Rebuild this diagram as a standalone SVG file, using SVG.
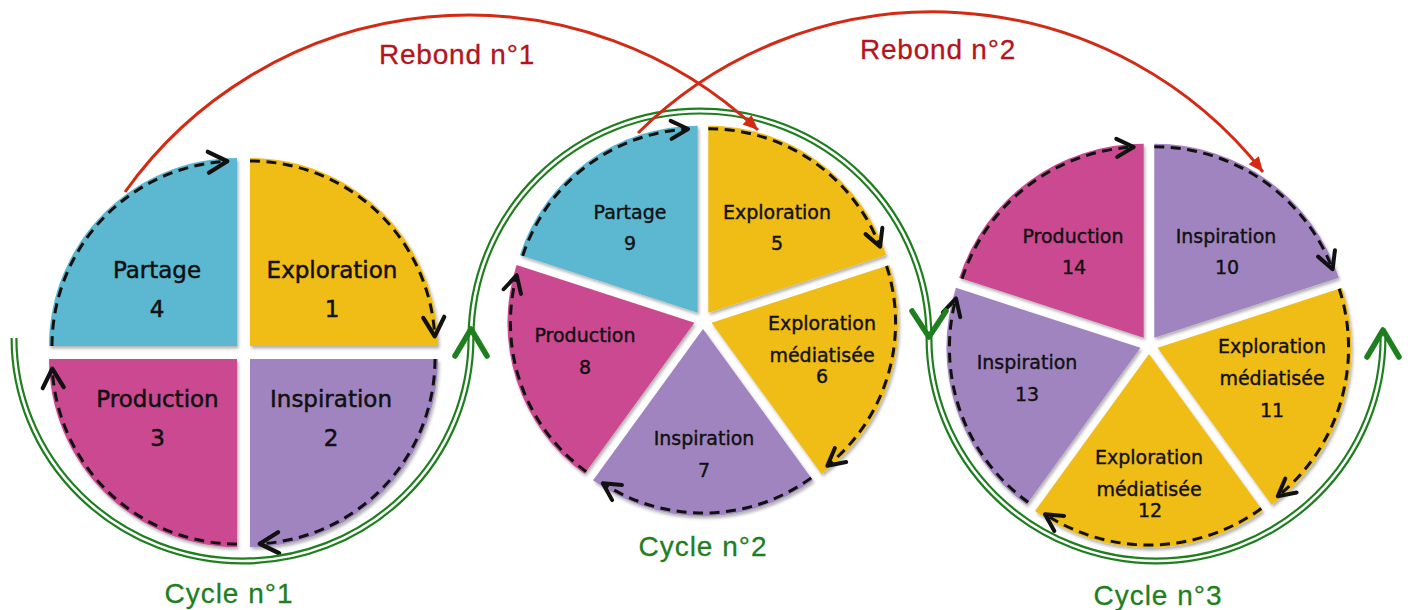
<svg xmlns="http://www.w3.org/2000/svg" width="1408" height="610" viewBox="0 0 1408 610">
<defs>
<style>
.bl{fill:#5bb8d0}.ye{fill:#f0bc15}.pu{fill:#a084bf}.pk{fill:#cb4a90}
.sec{filter:url(#sh)}
.dash{fill:none;stroke:#111;stroke-width:3;stroke-dasharray:10 6.5}
.d1{marker-end:url(#chevL)}.d2{marker-end:url(#chev)}
.t1{font-family:"DejaVu Sans",sans-serif;font-size:23px;text-anchor:middle;fill:#111;stroke:#111;stroke-width:0.5}
.t2{font-family:"DejaVu Sans",sans-serif;font-size:19px;text-anchor:middle;fill:#111;stroke:#111;stroke-width:0.4}
.red{fill:none;stroke:#d42a14;stroke-width:3;marker-end:url(#rtip)}
.go{fill:none;stroke:#1f7f1f;stroke-width:7}
.gi{fill:none;stroke:#fff;stroke-width:2.6}
.gch{fill:none;stroke:#1f7f1f;stroke-width:5.5;stroke-linecap:round;stroke-linejoin:round}
.reb{font-family:"Liberation Sans",sans-serif;font-size:28px;fill:#b4141b;stroke:#b4141b;stroke-width:0.3;letter-spacing:0.8px;text-anchor:middle}
.cyc{font-family:"Liberation Sans",sans-serif;font-size:28px;fill:#1f7f1f;stroke:#1f7f1f;stroke-width:0.3;letter-spacing:1px;text-anchor:middle}
</style>
<filter id="sh" x="-10%" y="-10%" width="120%" height="125%">
<feDropShadow dx="1.5" dy="2.5" stdDeviation="1.8" flood-color="#000" flood-opacity="0.3"/>
</filter>
<marker id="chevL" markerUnits="userSpaceOnUse" markerWidth="30" markerHeight="30" refX="22" refY="12" orient="auto" overflow="visible">
<path d="M3,1.5 L22,12 L3,22.5" fill="none" stroke="#111" stroke-width="4.2" stroke-dasharray="none" stroke-linecap="round" stroke-linejoin="round"/>
</marker>
<marker id="chev" markerUnits="userSpaceOnUse" markerWidth="26" markerHeight="26" refX="19" refY="10" orient="auto" overflow="visible">
<path d="M2,1 L19,10 L2,19" fill="none" stroke="#111" stroke-width="4" stroke-dasharray="none" stroke-linecap="round" stroke-linejoin="round"/>
</marker>
<marker id="rtip" markerUnits="userSpaceOnUse" markerWidth="18" markerHeight="14" refX="15" refY="6.5" orient="auto" overflow="visible">
<path d="M0,0 L15,6.5 L0,13 Z" fill="#d42a14"/>
</marker>
</defs>

<!-- Cycle 1 -->
<g id="c1-exploration"><path class="sec ye" d="M250,346 L250,158 A188,188 0 0,1 438,346 Z"/><text class="t1" x="332" y="278">Exploration</text><text class="t1" x="332" y="317">1</text></g>
<g id="c1-inspiration"><path class="sec pu" d="M250,359 L438,359 A188,188 0 0,1 250,547 Z"/><text class="t1" x="331" y="407">Inspiration</text><text class="t1" x="331" y="446">2</text></g>
<g id="c1-production"><path class="sec pk" d="M237,359 L237,547 A188,188 0 0,1 49,359 Z"/><text class="t1" x="157.5" y="407">Production</text><text class="t1" x="157.5" y="446">3</text></g>
<g id="c1-partage"><path class="sec bl" d="M237,346 L49,346 A188,188 0 0,1 237,158 Z"/><text class="t1" x="157" y="278">Partage</text><text class="t1" x="157" y="317">4</text></g>

<!-- Cycle 2 -->
<g id="c2-exploration"><path class="sec ye" d="M708.29,312.72 L708.29,125.72 A187,187 0 0,1 886.15,254.94 Z"/><text class="t2" x="777" y="219">Exploration</text><text class="t2" x="777" y="250">5</text></g>
<g id="c2-exploration-mediatisee"><path class="sec ye" d="M711.56,322.78 L889.42,265 A187,187 0 0,1 821.48,474.06 Z"/><text class="t2" x="822" y="330">Exploration</text><text class="t2" x="822" y="362">médiatisée</text><text class="t2" x="822" y="383">6</text></g>
<g id="c2-inspiration"><path class="sec pu" d="M703,329 L812.92,480.28 A187,187 0 0,1 593.08,480.28 Z"/><text class="t2" x="704" y="445">Inspiration</text><text class="t2" x="704" y="477">7</text></g>
<g id="c2-production"><path class="sec pk" d="M694.44,322.78 L584.52,474.06 A187,187 0 0,1 516.58,265 Z"/><text class="t2" x="585" y="342">Production</text><text class="t2" x="585" y="374">8</text></g>
<g id="c2-partage"><path class="sec bl" d="M697.71,312.72 L519.85,254.94 A187,187 0 0,1 697.71,125.72 Z"/><text class="t2" x="630" y="219">Partage</text><text class="t2" x="630" y="250">9</text></g>

<!-- Cycle 3 -->
<g id="c3-inspiration-10"><path class="sec pu" d="M1154.29,337.72 L1154.29,143.72 A194,194 0 0,1 1338.8,277.77 Z"/><text class="t2" x="1226" y="243">Inspiration</text><text class="t2" x="1227" y="274">10</text></g>
<g id="c3-exploration-mediatisee-11"><path class="sec ye" d="M1157.56,347.78 L1342.07,287.83 A194,194 0 0,1 1271.59,504.73 Z"/><text class="t2" x="1272" y="353">Exploration</text><text class="t2" x="1272" y="385">médiatisée</text><text class="t2" x="1272" y="417">11</text></g>
<g id="c3-exploration-mediatisee-12"><path class="sec ye" d="M1149,354 L1263.03,510.95 A194,194 0 0,1 1034.97,510.95 Z"/><text class="t2" x="1149" y="464">Exploration</text><text class="t2" x="1149" y="496">médiatisée</text><text class="t2" x="1150" y="517">12</text></g>
<g id="c3-inspiration-13"><path class="sec pu" d="M1140.44,347.78 L1026.41,504.73 A194,194 0 0,1 955.93,287.83 Z"/><text class="t2" x="1027" y="369">Inspiration</text><text class="t2" x="1027" y="401">13</text></g>
<g id="c3-production-14"><path class="sec pk" d="M1143.71,337.72 L959.2,277.77 A194,194 0 0,1 1143.71,143.72 Z"/><text class="t2" x="1073" y="243">Production</text><text class="t2" x="1074" y="274">14</text></g>

<g id="connectors">
<!-- dashed cycle arrows -->
<path class="dash d1" d="M52,346 A185,185 0 0,1 227.32,161.26"/>
<path class="dash d1" d="M250,161 A185,185 0 0,1 434.75,336.32"/>
<path class="dash d1" d="M435,359 A185,185 0 0,1 259.68,543.75"/>
<path class="dash d1" d="M237,544 A185,185 0 0,1 52.25,368.68"/>

<path class="dash d2" d="M708.29,128.72 A184,184 0 0,1 880.07,246.77"/>
<path class="dash d2" d="M886.56,265.92 A184,184 0 0,1 827.35,465.77"/>
<path class="dash d2" d="M811.16,477.86 A184,184 0 0,1 602.79,483.32"/>
<path class="dash d2" d="M586.28,471.64 A184,184 0 0,1 516.71,275.16"/>
<path class="dash d2" d="M522.71,255.86 A184,184 0 0,1 688.09,128.98"/>

<path class="dash d2" d="M1154.29,146.72 A191,191 0 0,1 1332.61,269.27"/>
<path class="dash d2" d="M1339.21,288.76 A191,191 0 0,1 1277.76,496.21"/>
<path class="dash d2" d="M1261.27,508.52 A191,191 0 0,1 1044.97,514.19"/>
<path class="dash d2" d="M1028.17,502.3 A191,191 0 0,1 955.95,298.35"/>
<path class="dash d2" d="M962.06,278.7 A191,191 0 0,1 1133.71,146.98"/>

<!-- green cycle line -->
<path class="go" d="M14,338 A228.5,223 0 0,0 471,338 A229,227 0 0,1 929,338 A227,223 0 0,0 1383,338"/>
<path class="gi" d="M14,338 A228.5,223 0 0,0 471,338 A229,227 0 0,1 929,338 A227,223 0 0,0 1383,338"/>
<polyline class="gch" points="455,356 471,329 487,356"/>
<polyline class="gch" points="912,311 929,337 946,311"/>
<polyline class="gch" points="1367,357 1383,330 1399,357"/>

<!-- rebonds -->
<path class="red" d="M125,192 A422,422 0 0,1 758,130"/>
<path class="red" d="M638,133 A420,420 0 0,1 1263,172"/>
</g>

<g id="labels">
<text class="reb" x="457" y="64">Rebond n°1</text>
<text class="reb" x="938" y="59">Rebond n°2</text>
<text class="cyc" x="229" y="603">Cycle n°1</text>
<text class="cyc" x="703" y="556">Cycle n°2</text>
<text class="cyc" x="1158" y="605">Cycle n°3</text>
</g>
</svg>
